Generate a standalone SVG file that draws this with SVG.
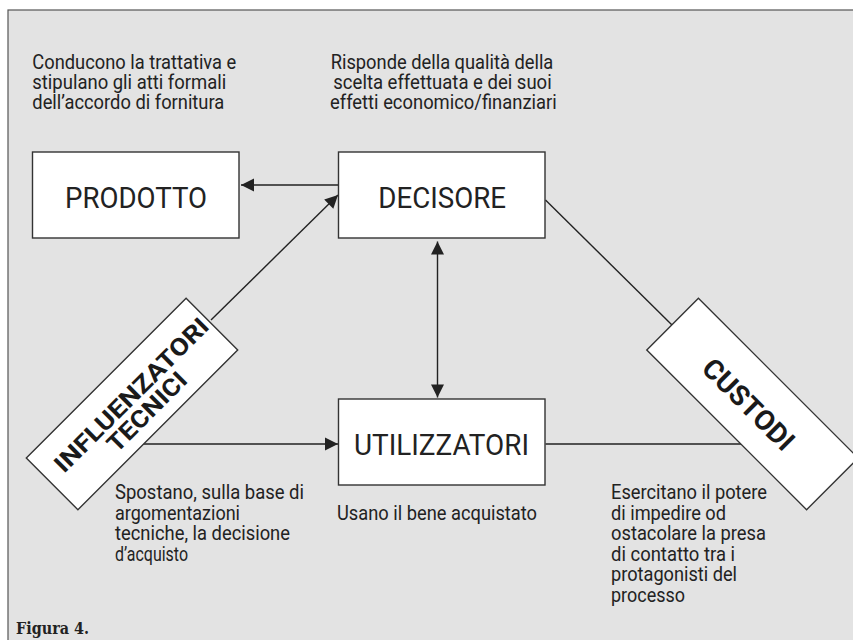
<svg xmlns="http://www.w3.org/2000/svg" width="853" height="640" viewBox="0 0 853 640">
<defs>
<style>
.t{font-family:Roboto,"Liberation Sans",sans-serif;font-size:19.5px;fill:#222}
.lbl{font-family:Roboto,"Liberation Sans",sans-serif;font-size:30px;fill:#222}
.bl{font-family:Roboto,"Liberation Sans",sans-serif;font-weight:bold;fill:#1a1a1a}
.box{fill:#fff;stroke:#333;stroke-width:1.4}
.ln{stroke:#222;stroke-width:1.4;fill:none}
.fig{font-family:"DejaVu Serif","Liberation Serif",serif;font-weight:bold;font-size:17px;fill:#222}
</style>
<marker id="ah" markerUnits="userSpaceOnUse" markerWidth="14" markerHeight="14" viewBox="0 -7 13 14" refX="13" refY="0" orient="auto-start-reverse">
<path d="M0,-6.5 L13,0 L0,6.5 z" fill="#222"/>
</marker>
</defs>
<rect x="8" y="10" width="860" height="640" fill="#e3e3e3" stroke="#555" stroke-width="1.2"/>
<g id="connectors">
<line class="ln" x1="339" y1="185" x2="241" y2="185" marker-end="url(#ah)"/>
<line class="ln" x1="211" y1="320" x2="338" y2="195" marker-end="url(#ah)"/>
<line class="ln" x1="437.5" y1="241.5" x2="437.5" y2="397.5" marker-start="url(#ah)" marker-end="url(#ah)"/>
<line class="ln" x1="545.5" y1="200" x2="672" y2="325"/>
<line class="ln" x1="143" y1="444" x2="338" y2="444" marker-end="url(#ah)"/>
<line class="ln" x1="545.5" y1="444" x2="741" y2="444"/>
</g>
<g id="prodotto">
<rect class="box" x="32.5" y="152" width="206.5" height="86"/>
<text class="lbl" x="65" y="207.5" textLength="142" lengthAdjust="spacingAndGlyphs">PRODOTTO</text>
</g>
<g id="decisore">
<rect class="box" x="338.5" y="152" width="206.5" height="86"/>
<text class="lbl" x="378.3" y="207.5" textLength="127.7" lengthAdjust="spacingAndGlyphs">DECISORE</text>
</g>
<g id="utilizzatori">
<rect class="box" x="338.5" y="399" width="206.5" height="86"/>
<text class="lbl" x="354" y="455" textLength="175" lengthAdjust="spacingAndGlyphs">UTILIZZATORI</text>
</g>
<g id="influenzatori" transform="translate(132,404) rotate(-45)">
<rect class="box" x="-113" y="-36.5" width="226" height="73"/>
<text class="bl" x="-97.5" y="1.5" font-size="24" textLength="207" lengthAdjust="spacingAndGlyphs">INFLUENZATORI</text>
<text class="bl" x="-46" y="24.5" font-size="24" textLength="102" lengthAdjust="spacingAndGlyphs">TECNICI</text>
</g>
<g id="custodi" transform="translate(752.5,404) rotate(45)">
<rect class="box" x="-113" y="-36.5" width="226" height="73"/>
<text class="bl" x="-61" y="12.8" font-size="28" textLength="117" lengthAdjust="spacingAndGlyphs">CUSTODI</text>
</g>
<g id="note-prodotto">
<text class="t" x="32.3" y="69" textLength="204" lengthAdjust="spacingAndGlyphs">Conducono la trattativa e</text>
<text class="t" x="32.3" y="89" textLength="194" lengthAdjust="spacingAndGlyphs">stipulano gli atti formali</text>
<text class="t" x="32.3" y="109" textLength="192" lengthAdjust="spacingAndGlyphs">dell’accordo di fornitura</text>
</g>
<g id="note-decisore">
<text class="t" x="330.7" y="69" textLength="222.6" lengthAdjust="spacingAndGlyphs">Risponde della qualità della</text>
<text class="t" x="333.3" y="89" textLength="218.4" lengthAdjust="spacingAndGlyphs">scelta effettuata e dei suoi</text>
<text class="t" x="330" y="109" textLength="226.7" lengthAdjust="spacingAndGlyphs">effetti economico/finanziari</text>
</g>
<g id="note-influenzatori">
<text class="t" x="115" y="499" textLength="189" lengthAdjust="spacingAndGlyphs">Spostano, sulla base di</text>
<text class="t" x="115" y="519.5" textLength="125" lengthAdjust="spacingAndGlyphs">argomentazioni</text>
<text class="t" x="115" y="540" textLength="175" lengthAdjust="spacingAndGlyphs">tecniche, la decisione</text>
<text class="t" x="115" y="560.5" textLength="73" lengthAdjust="spacingAndGlyphs">d’acquisto</text>
</g>
<g id="note-utilizzatori">
<text class="t" x="337" y="519.5" textLength="200" lengthAdjust="spacingAndGlyphs">Usano il bene acquistato</text>
</g>
<g id="note-custodi">
<text class="t" x="611" y="499" textLength="156" lengthAdjust="spacingAndGlyphs">Esercitano il potere</text>
<text class="t" x="611" y="519.5" textLength="115" lengthAdjust="spacingAndGlyphs">di impedire od</text>
<text class="t" x="611" y="540" textLength="155" lengthAdjust="spacingAndGlyphs">ostacolare la presa</text>
<text class="t" x="611" y="560.5" textLength="124" lengthAdjust="spacingAndGlyphs">di contatto tra i</text>
<text class="t" x="611" y="581" textLength="126" lengthAdjust="spacingAndGlyphs">protagonisti del</text>
<text class="t" x="611" y="601.5" textLength="74" lengthAdjust="spacingAndGlyphs">processo</text>
</g>
<text class="fig" x="16" y="634" textLength="73" lengthAdjust="spacingAndGlyphs">Figura 4.</text>
</svg>
